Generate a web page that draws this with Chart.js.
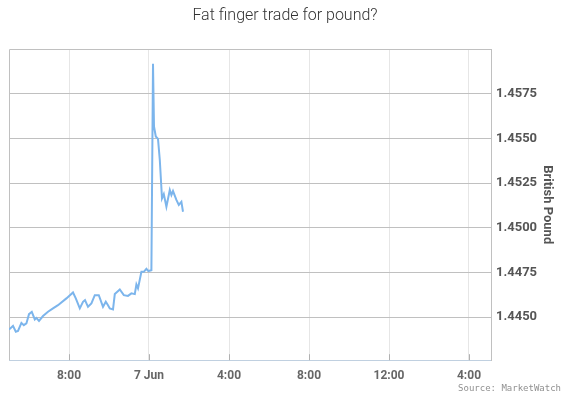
<!DOCTYPE html>
<html>
<head>
<meta charset="utf-8">
<script src="https://cdn.jsdelivr.net/npm/chart.js@4/dist/chart.umd.min.js"></script>
<style>
	html, body { margin: 0; padding: 0; background: #fff; }
	#wrap { width: 569px; height: 398px; }
</style>
</head>
<body>
<div id="wrap"><canvas id="myChart" width="569" height="398"></canvas></div>
<script>
// hours after 5:00 PM on 6 Jun
var hours = [0.00, 0.20, 0.34, 0.45, 0.62, 0.74, 0.87, 1.00, 1.14, 1.29, 1.37, 1.50, 1.70, 1.95, 2.20, 2.45, 2.87, 3.20, 3.34, 3.54, 3.70, 3.80, 3.95, 4.12, 4.29, 4.49, 4.70, 4.84, 4.95, 5.04, 5.20, 5.29, 5.54, 5.74, 5.95, 6.12, 6.29, 6.37, 6.45, 6.62, 6.74, 6.87, 6.97, 7.12, 7.20, 7.25, 7.34, 7.45, 7.54, 7.65, 7.74, 7.87, 8.04, 8.12, 8.20, 8.37, 8.49, 8.62, 8.70];
var pound = [1.44431, 1.44451, 1.44418, 1.44423, 1.44468, 1.44455, 1.44465, 1.44517, 1.44530, 1.44487, 1.44496, 1.44479, 1.44506, 1.44530, 1.44549, 1.44567, 1.44605, 1.44638, 1.44605, 1.44549, 1.44586, 1.44595, 1.44558, 1.44577, 1.44623, 1.44623, 1.44558, 1.44586, 1.44567, 1.44549, 1.44543, 1.44629, 1.44655, 1.44623, 1.44619, 1.44633, 1.44629, 1.44683, 1.44661, 1.44754, 1.44754, 1.44771, 1.44758, 1.44763, 1.45918, 1.45567, 1.45511, 1.45498, 1.45380, 1.45165, 1.45189, 1.45118, 1.45212, 1.45184, 1.45206, 1.45156, 1.45128, 1.45146, 1.45090];

var xTickValues = [3, 7, 11, 15, 19, 23];
var xTickLabels = ['8:00', '7 Jun', '4:00', '8:00', '12:00', '4:00'];
var yTickValues = [1.4450, 1.4475, 1.4500, 1.4525, 1.4550, 1.4575];

var points = [];
for (var i = 0; i < hours.length; i++) {
	points.push({ x: hours[i], y: pound[i] });
}

// plot border and the small inside tick marks on the time axis
var plotFrame = {
	id: 'plotFrame',
	beforeDatasetsDraw: function(chart) {
		var ctx = chart.ctx;
		var a = chart.chartArea;
		ctx.save();
		ctx.strokeStyle = '#c0c0c0';
		ctx.lineWidth = 1;
		ctx.beginPath();
		ctx.moveTo(Math.round(a.left) + 0.5, a.bottom);
		ctx.lineTo(Math.round(a.left) + 0.5, Math.round(a.top) + 0.5);
		ctx.lineTo(a.right, Math.round(a.top) + 0.5);
		ctx.stroke();
		ctx.strokeStyle = '#b0b0b0';
		var xs = chart.scales.x;
		xs.ticks.forEach(function(t) {
			var px = Math.round(xs.getPixelForValue(t.value)) + 0.5;
			ctx.beginPath();
			ctx.moveTo(px, a.bottom);
			ctx.lineTo(px, a.bottom - 6);
			ctx.stroke();
		});
		ctx.restore();
	}
};

var ctx = document.getElementById('myChart').getContext('2d');
var chart = new Chart(ctx, {
	type: 'line',
	data: {
		datasets: [{
			label: 'British Pound',
			data: points,
			borderColor: '#7cb5ec',
			borderWidth: 2,
			pointRadius: 0,
			tension: 0,
			fill: false
		}]
	},
	options: {
		responsive: false,
		animation: false,
		layout: {
			padding: { left: 9, right: 8, top: 0, bottom: 0 }
		},
		plugins: {
			legend: { display: false },
			tooltip: { enabled: false },
			title: {
				display: true,
				text: 'Fat finger trade for pound?',
				color: '#333',
				font: { family: 'Roboto', size: 16, weight: '300' },
				padding: { top: 6, bottom: 24 }
			},
			subtitle: {
				display: true,
				position: 'bottom',
				align: 'end',
				text: 'Source: MarketWatch',
				color: '#909090',
				font: { family: 'DejaVu Sans Mono', size: 9 },
				padding: { top: 0, bottom: 4 }
			}
		},
		scales: {
			x: {
				type: 'linear',
				min: 0,
				max: 24.1,
				afterBuildTicks: function(scale) {
					scale.ticks = xTickValues.map(function(v) { return { value: v }; });
				},
				afterFit: function(scale) {
					scale.height = 23;
				},
				ticks: {
					autoSkip: false,
					maxRotation: 0,
					padding: 9,
					color: '#666',
					font: { family: 'Roboto', size: 12, weight: 'bold' },
					callback: function(value) {
						var k = xTickValues.indexOf(value);
						return k >= 0 ? xTickLabels[k] : '';
					}
				},
				grid: { color: '#e6e6e6', drawTicks: false },
				border: { display: true, color: '#c0d0e0' }
			},
			y: {
				position: 'right',
				min: 1.44259,
				max: 1.4600,
				afterBuildTicks: function(scale) {
					scale.ticks = yTickValues.map(function(v) { return { value: v }; });
				},
				afterFit: function(scale) {
					scale.width = 70;
				},
				ticks: {
					padding: 5,
					color: '#555',
					font: { family: 'Roboto', size: 13, weight: 'bold' },
					callback: function(value) { return value.toFixed(4); }
				},
				grid: { color: '#c0c0c0', drawTicks: false },
				border: { display: true, color: '#c0c0c0' },
				title: {
					display: true,
					text: 'British Pound',
					color: '#555',
					font: { family: 'Roboto', size: 13, weight: 'bold' },
					padding: { top: 6, bottom: 0 }
				}
			}
		}
	},
	plugins: [plotFrame]
});
</script>
</body>
</html>
